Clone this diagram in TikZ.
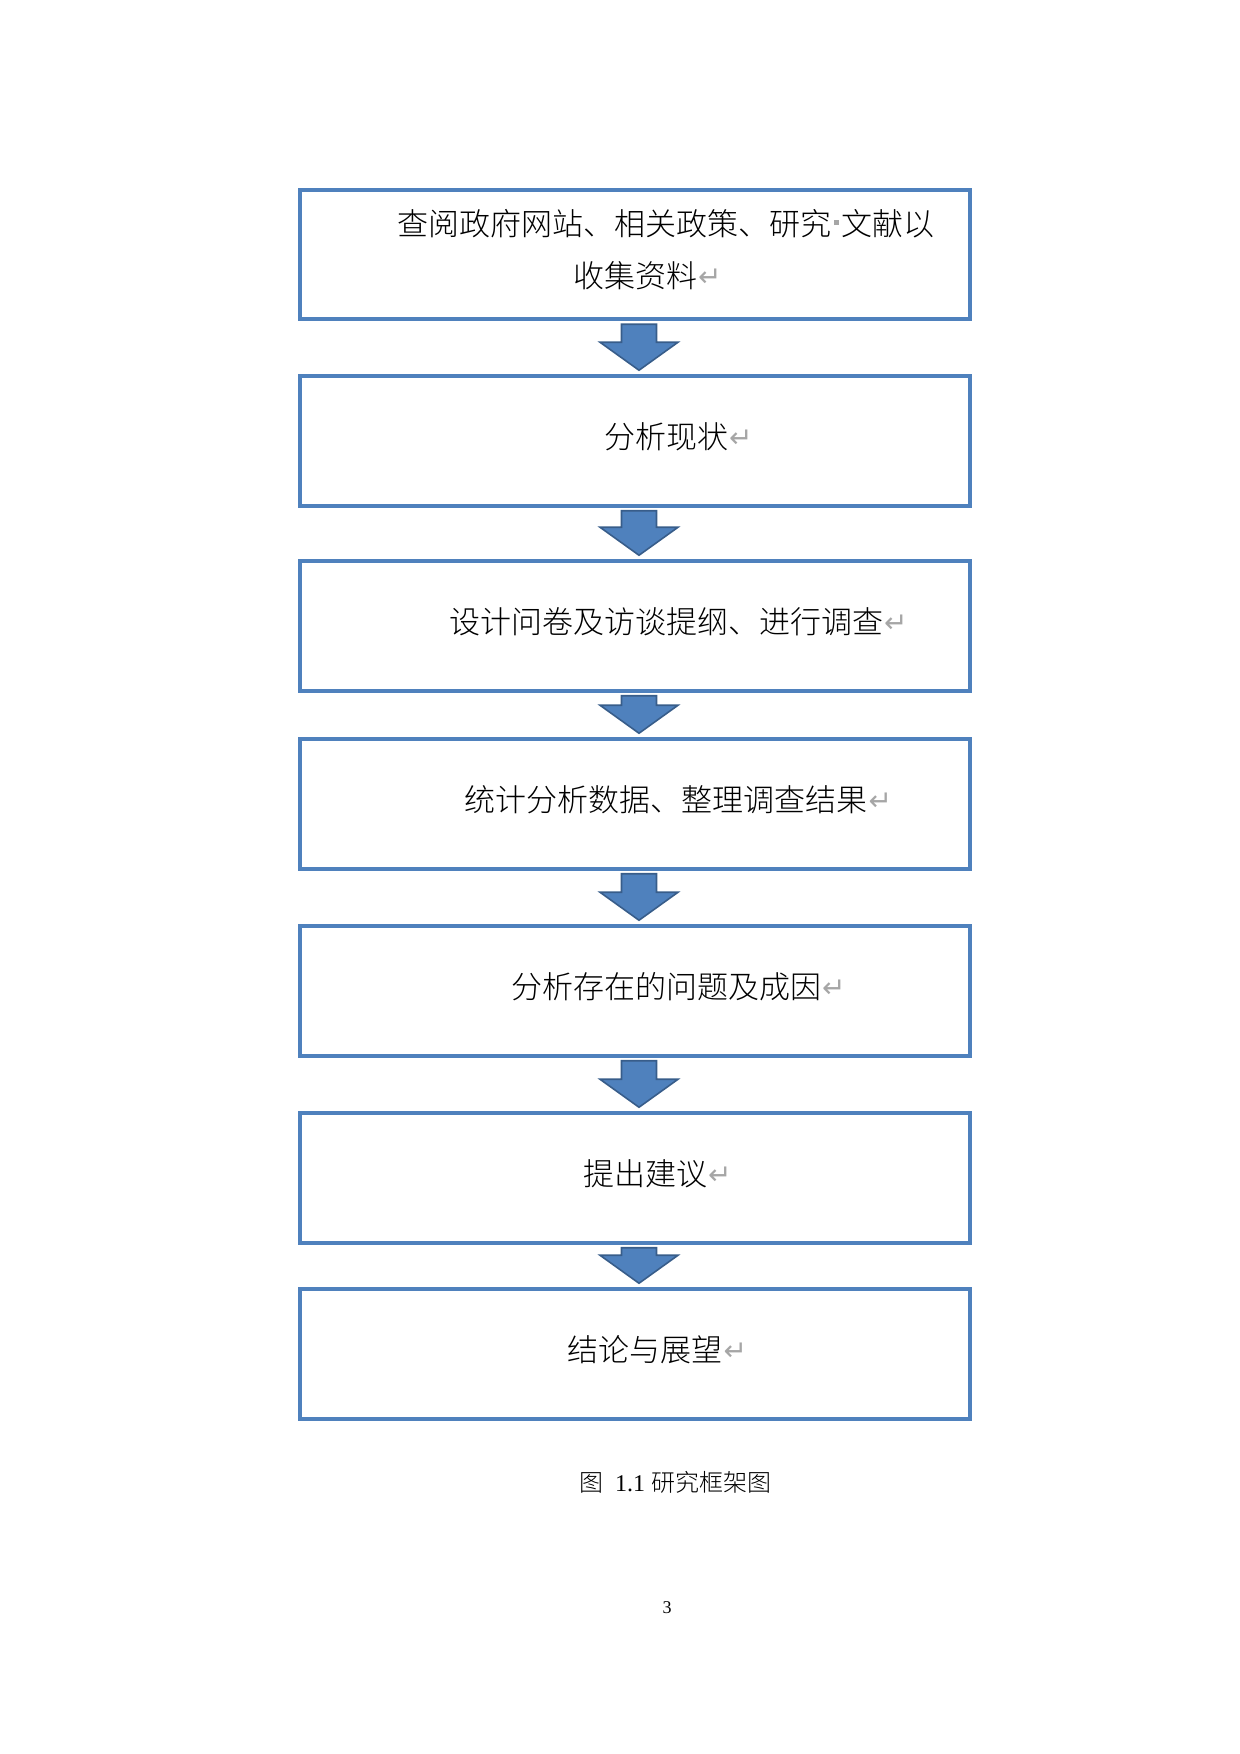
\documentclass[tikz,border=0pt]{standalone}
\usepackage{fontspec}
\setmainfont{Liberation Serif}
\IfFontExistsTF{Noto Sans CJK SC Light}{\newfontfamily\cjk{Noto Sans CJK SC Light}}{\newfontfamily\cjk{Noto Sans CJK SC}}
\newfontfamily\symf{DejaVu Sans}
\usetikzlibrary{calc}
\definecolor{boxblue}{HTML}{4F81BD}
\definecolor{arrowfill}{HTML}{4F81BD}
\definecolor{arrowline}{HTML}{385D8A}
\definecolor{markgray}{HTML}{A6A6A6}
\newcommand\retmk{\rlap{\hspace{0.5pt}\raisebox{0.5pt}{\symf\fontsize{14pt}{14pt}\selectfont\color{markgray}↵}}}
\newcommand\spmk{\makebox[5pt]{\color{markgray}\rule[0.33em]{2.5pt}{2.5pt}}}
\begin{document}
\begin{tikzpicture}[x=0.5pt,y=-0.5pt,
  box/.style={draw=boxblue, line width=2pt, minimum width=335pt, minimum height=64.75pt, inner sep=0pt},
  boxtext/.style={font=\cjk\fontsize{15.5pt}{26pt}\selectfont, inner sep=0pt, align=center},
  blockarrow/.style={fill=arrowfill, draw=arrowline, line width=0.8pt, line join=miter,
    to path={($(\tikztostart)+(-13.5,3)$) -- ($(\tikztostart)+(21.5,3)$) -- ($(\tikztotarget)+(21.5,-32)$)
      -- ($(\tikztotarget)+(43,-32)$) -- ($(\tikztotarget)+(4,-4)$) -- ($(\tikztotarget)+(-35,-32)$)
      -- ($(\tikztotarget)+(-13.5,-32)$) -- cycle}}]
\useasboundingbox (0,0) rectangle (1240,1754);
\node[box] (b1) at (635,254.5) {};
\node[box] (b2) at (635,441) {};
\node[box] (b3) at (635,626) {};
\node[box] (b4) at (635,804) {};
\node[box] (b5) at (635,991) {};
\node[box] (b6) at (635,1178) {};
\node[box] (b7) at (635,1354) {};
\node[boxtext] (t1) at ([yshift=2.5pt]b1.center) {\hspace*{2em}查阅政府网站、相关政策、研究\spmk 文献以\\收集资料\retmk};
\node[boxtext] (t2) at ([yshift=2pt]b2.center) {\hspace*{2em}分析现状\retmk};
\node[boxtext] (t3) at ([yshift=2pt]b3.center) {\hspace*{2em}设计问卷及访谈提纲、进行调查\retmk};
\node[boxtext] (t4) at ([yshift=2pt]b4.center) {\hspace*{2em}统计分析数据、整理调查结果\retmk};
\node[boxtext] (t5) at ([yshift=2pt]b5.center) {\hspace*{2em}分析存在的问题及成因\retmk};
\node[boxtext] (t6) at ([xshift=5pt,yshift=2pt]b6.center) {提出建议\retmk};
\node[boxtext] (t7) at ([xshift=5pt,yshift=2pt]b7.center) {结论与展望\retmk};
\path (b1.south) edge[blockarrow] (b2.north);
\path (b2.south) edge[blockarrow] (b3.north);
\path (b3.south) edge[blockarrow] (b4.north);
\path (b4.south) edge[blockarrow] (b5.north);
\path (b5.south) edge[blockarrow] (b6.north);
\path (b6.south) edge[blockarrow] (b7.north);
\node[inner sep=0pt, font=\fontsize{12pt}{14pt}\selectfont] (cap) at (675,1482) {{\cjk 图}~~1.1 {\cjk 研究框架图}};
\node[inner sep=0pt, font=\fontsize{9pt}{11pt}\selectfont] (pg) at (667,1608) {3};
\end{tikzpicture}
\end{document}
